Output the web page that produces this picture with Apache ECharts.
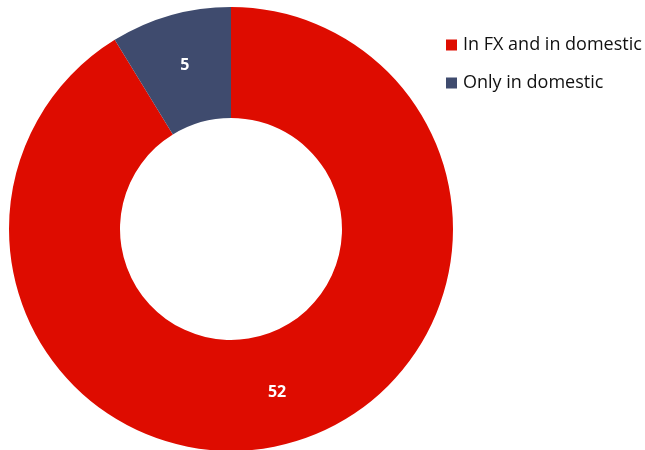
<!DOCTYPE html>
<html><head><meta charset="utf-8">
<script src="https://cdn.jsdelivr.net/npm/echarts@6/dist/echarts.min.js"></script>
<style>html,body{margin:0;padding:0;background:#fff}#c{width:645px;height:450px}</style>
</head><body><div id="c"></div>
<script>
const categories = ["In FX and in domestic", "Only in domestic"];
const values = [52, 5];
const colors = ["#DE0C00", "#3F4B6E"];
const chart = echarts.init(document.getElementById('c'), null, {renderer: 'canvas'});
chart.setOption({
  animation: false,
  legend: {
    orient: 'vertical', left: 441, top: 31,
    itemWidth: 11, itemHeight: 11, itemGap: 20,
    icon: 'rect',
    data: categories,
    textStyle: {fontFamily: 'Open Sans', fontSize: 18, color: '#111', padding: [0, 0, 0, 1]}
  },
  series: [{
    type: 'pie',
    center: [231, 229],
    radius: [111, 222],
    startAngle: 90,
    clockwise: true,
    label: {show: true, position: 'inside', formatter: '{c}', color: '#fff', fontWeight: 'bold', fontSize: 16, fontFamily: 'Open Sans'},
    labelLine: {show: false},
    itemStyle: {borderWidth: 0},
    data: categories.map((n, i) => ({name: n, value: values[i], itemStyle: {color: colors[i]}}))
  }]
});
</script></body></html>
